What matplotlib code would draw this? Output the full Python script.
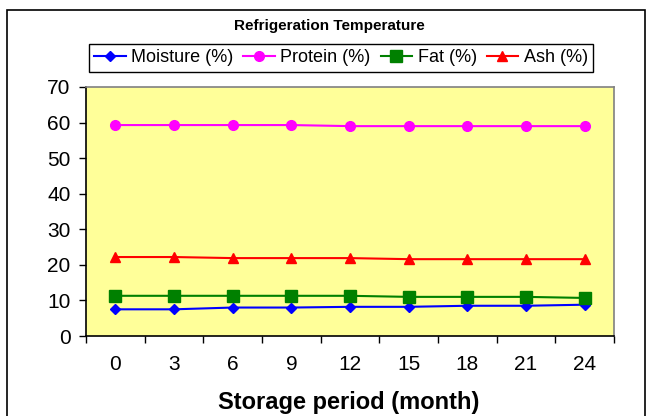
import matplotlib
matplotlib.use("Agg")
import matplotlib.pyplot as plt
from matplotlib.patches import Rectangle

plt.rcParams['font.family'] = ['Liberation Sans', 'DejaVu Sans']

months = ['0', '3', '6', '9', '12', '15', '18', '21', '24']
moisture = [7.5, 7.5, 8.0, 8.0, 8.2, 8.2, 8.5, 8.5, 8.8]
protein = [59.3, 59.3, 59.3, 59.3, 59.0, 59.0, 59.0, 59.0, 59.0]
fat = [11.3, 11.3, 11.3, 11.3, 11.3, 11.0, 11.0, 11.0, 10.7]
ash = [22.2, 22.2, 21.9, 21.9, 21.9, 21.6, 21.6, 21.6, 21.6]

series = [
    ('Moisture (%)', moisture, '#0000FF', 'D', 5.2),
    ('Protein (%)', protein, '#FF00FF', 'o', 7),
    ('Fat (%)', fat, '#008000', 's', 8),
    ('Ash (%)', ash, '#FF0000', '^', 7.5),
]

W, H = 652, 416
fig = plt.figure(figsize=(W / 100, H / 100), dpi=100)
ax = fig.add_axes([86 / W, 1 - 336 / H, (614 - 86) / W, (336 - 87) / H])
ax.set_facecolor('#FFFF99')

x = list(range(len(months)))
handles = []
for name, vals, col, mk, ms in series:
    h, = ax.plot(x, vals, color=col, marker=mk, markersize=ms, linewidth=1.5,
                 markerfacecolor=col, markeredgecolor=col, label=name)
    handles.append(h)

ax.set_xlim(-0.5, len(months) - 0.5)
ax.set_ylim(0, 70)
ax.set_yticks(range(0, 71, 10))
# ticks sit between categories, labels in the middle (category axis)
ax.set_xticks([i - 0.5 for i in range(len(months) + 1)])
ax.set_xticklabels([])
ax.set_xticks(x, minor=True)
ax.set_xticklabels(months, minor=True)
ax.tick_params(axis='x', which='major', length=5, width=1, direction='out')
ax.tick_params(axis='x', which='minor', length=0, pad=14, labelsize=15)
ax.tick_params(axis='y', length=5, width=1, direction='out', pad=6, labelsize=15)

for s in ['top', 'right']:
    ax.spines[s].set_color('#808080')
for s in ['left', 'bottom']:
    ax.spines[s].set_color('black')
for s in ax.spines.values():
    s.set_linewidth(1.2)

fig.text(349 / W, 1 - 402 / H, 'Storage period (month)', ha='center', va='center',
         fontsize=17, fontweight='bold')
fig.text(329 / W, 1 - 26 / H, 'Refrigeration Temperature', ha='center', va='center',
         fontsize=11, fontweight='bold')

leg = fig.legend(handles=handles, loc='center', bbox_to_anchor=(341 / W, 1 - 58 / H),
                 ncol=4, fontsize=13, handlelength=1.75, handletextpad=0.3,
                 columnspacing=0.55, borderpad=0.3, fancybox=False, framealpha=1,
                 edgecolor='black', borderaxespad=0)
leg.get_frame().set_linewidth(1)

# chart border
fig.patches.append(Rectangle((7 / W, -0.05), (645 - 7) / W, 1.05 - 10 / H,
                             transform=fig.transFigure, fill=False,
                             edgecolor='black', linewidth=1.2))

fig.savefig('out.png', dpi=100)
